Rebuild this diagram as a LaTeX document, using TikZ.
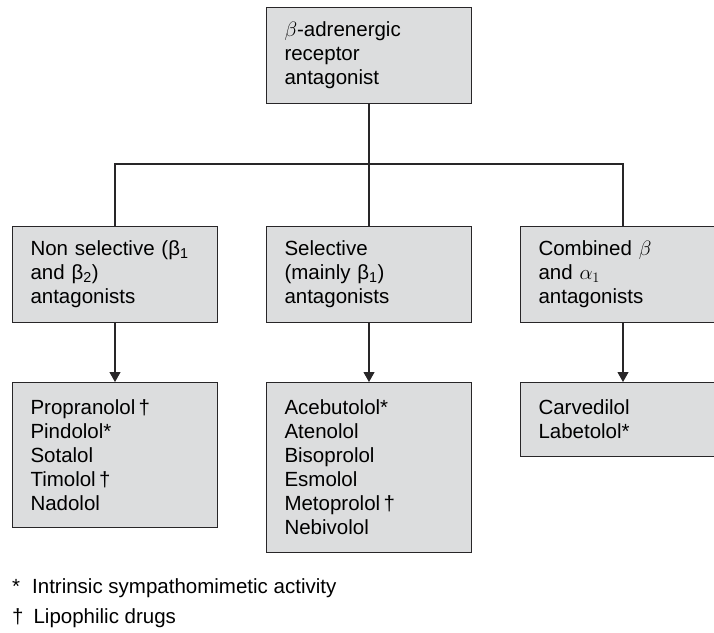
\documentclass[tikz,border=0pt]{standalone}
\usepackage{fontspec}
\setmainfont{Liberation Sans}
\usepackage{xcolor}
\usepackage{tikz}
\usetikzlibrary{positioning,arrows.meta}

\definecolor{boxgray}{RGB}{220,221,222}
\definecolor{inkgray}{RGB}{40,38,40}

\begin{document}
\begin{tikzpicture}[x=1pt, y=-1pt,
    box/.style={draw=inkgray, line width=1.1pt, fill=boxgray, anchor=north,
        align=left, text width=169pt, inner xsep=18pt, inner ysep=0pt,
        font=\fontsize{20.5pt}{24pt}\selectfont},
    link/.style={draw=inkgray, line width=1.1pt},
    arrow/.style={link, -{Triangle[length=10pt, width=11pt]}},
    legend/.style={anchor=base west, inner sep=0pt, font=\fontsize{20.5pt}{24pt}\selectfont}]
\useasboundingbox (0,0) rectangle (714,632);
\clip (0,0) rectangle (714,632);

\node[box, minimum height=96pt] (root) at (369,7) {$\beta$-adrenergic\\receptor\\antagonist};

\node[box, minimum height=96pt] (class_0) at (115,226) {Non selective (β\textsubscript{1}\\and β\textsubscript{2})\\antagonists};
\node[box, minimum height=96pt] (class_1) at (369,226) {Selective\\(mainly β\textsubscript{1})\\antagonists};
\node[box, minimum height=96pt] (class_2) at (623,226) {Combined $\beta$\\and $\alpha_1$\\antagonists};

\node[box, minimum height=145pt] (drugs_0) at (115,382) {Propranolol\,†\\Pindolol*\\Sotalol\\Timolol\,†\\Nadolol};
\node[box, minimum height=170pt] (drugs_1) at (369,382) {Acebutolol*\\Atenolol\\Bisoprolol\\Esmolol\\Metoprolol\,†\\Nebivolol};
\node[box, minimum height=74pt] (drugs_2) at (623,382) {Carvedilol\\Labetolol*};

\coordinate (split) at (369,164);
\draw[link] (root) -- (split);
\draw[link] (split) -| (class_0);
\draw[link] (split) -| (class_2);
\draw[link] (split) -- (class_1);

\draw[arrow] (class_0) -- (drugs_0);
\draw[arrow] (class_1) -- (drugs_1);
\draw[arrow] (class_2) -- (drugs_2);

\node[legend] (note_isa) at (12,593) {*\hspace{12pt}Intrinsic sympathomimetic activity};
\node[legend] (note_lipo) at (12,623) {†\hspace{10pt}Lipophilic drugs};

\end{tikzpicture}
\end{document}
